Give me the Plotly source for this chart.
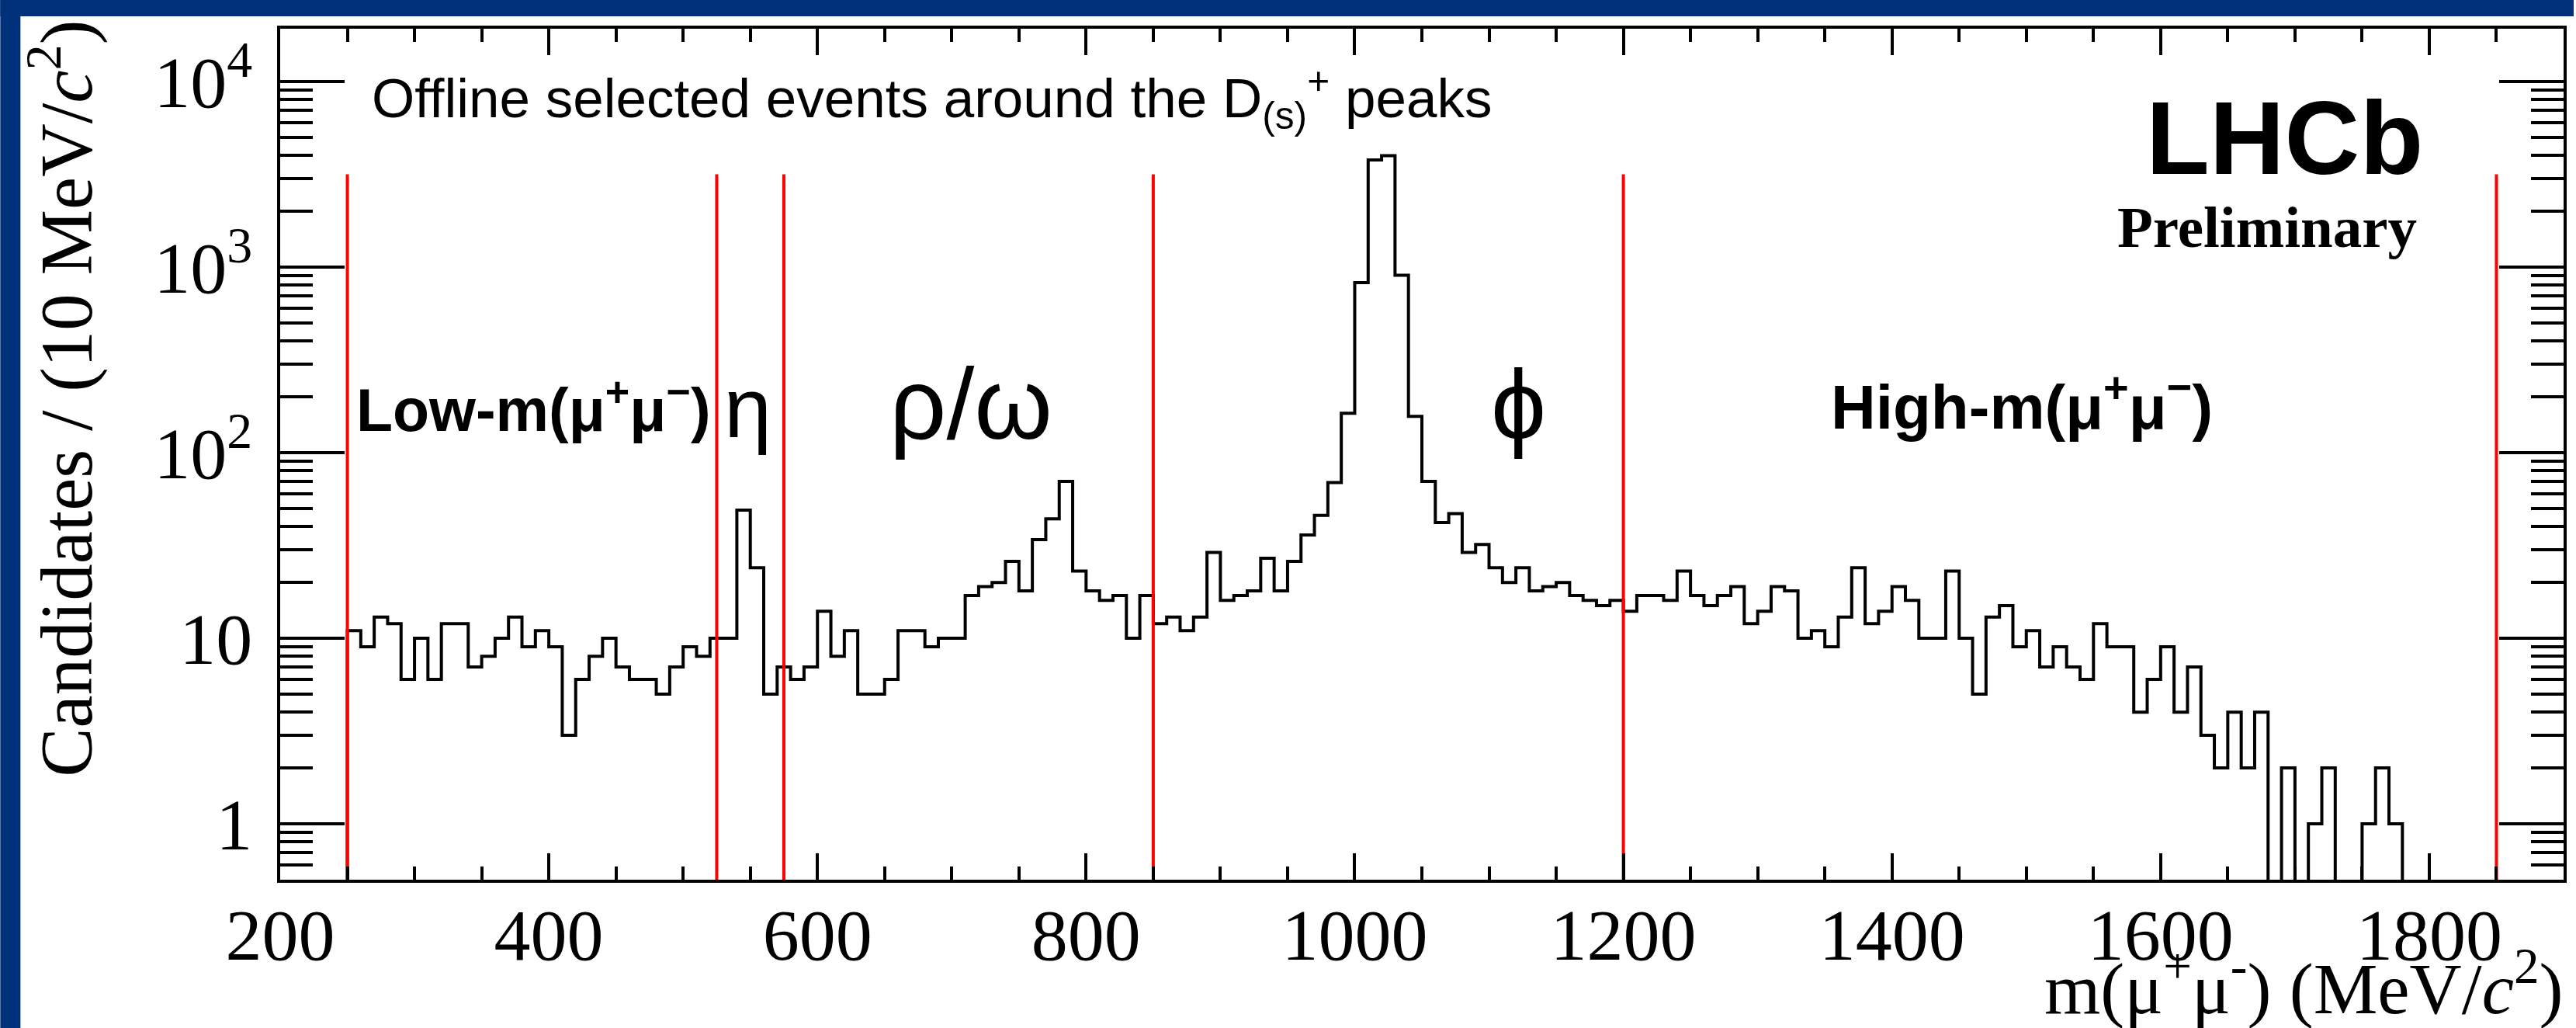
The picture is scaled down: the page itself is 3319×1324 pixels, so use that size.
import numpy as np
import plotly.graph_objects as go

# Dimuon invariant-mass spectrum, 10 MeV/c^2 bins starting at 250 MeV/c^2
bin_low = 250
bin_width = 10
counts = [
    11, 9, 13, 12, 6, 10, 6, 12, 12, 7,          # 250-350
    8, 10, 13, 9, 11, 9, 3, 6, 8, 10,            # 350-450
    7, 6, 6, 5, 7, 9, 8, 10, 10, 49,             # 450-550
    24, 5, 7, 6, 7, 14, 8, 11, 5, 5,             # 550-650
    6, 11, 11, 9, 10, 10, 17, 19, 20, 26,        # 650-750
    18, 34, 44, 70, 23, 18, 16, 17, 10, 17,      # 750-850
    12, 13, 11, 13, 29, 16, 17, 18, 27, 18,      # 850-950
    26, 36, 46, 69, 163, 825, 3780, 3990, 905, 157,  # 950-1050
    70, 42, 47, 29, 32, 24, 20, 24, 18, 19,      # 1050-1150
    20, 17, 16, 15, 16, 14, 17, 17, 16, 23,      # 1150-1250
    17, 15, 17, 19, 12, 14, 19, 18, 10, 11,      # 1250-1350
    9, 13, 24, 12, 14, 19, 16, 10, 10, 23,       # 1350-1450
    10, 5, 13, 15, 9, 11, 7, 9, 7, 6,            # 1450-1550
    12, 9, 9, 4, 6, 9, 4, 7, 3, 2,               # 1550-1650
    4, 2, 4, 0, 2, 0, 1, 2, 0, 0,                # 1650-1750
    1, 2, 1, 0, 0, 0, 0, 0, 0, 0,                # 1750-1850
]

# Boundaries of the dimuon-mass regions
region_edges = [250, 525, 575, 850, 1200, 1850]
region_line_top = 10 ** 3.5

# Axes
x_range = [200, 1900]
x_major = [200, 400, 600, 800, 1000, 1200, 1400, 1600, 1800]
y_min, y_max = 0.5, 10 ** 4.285
y_major = [1, 10, 100, 1000, 10000]
y_major_text = ["1", "10", "10<sup>2</sup>", "10<sup>3</sup>", "10<sup>4</sup>"]
y_minor = [m * 10.0 ** e for e in range(-1, 4) for m in range(2, 10)
           if y_min < m * 10.0 ** e < y_max]

# Region labels
region_labels = ["Low-m(μ<sup>+</sup>μ<sup>−</sup>)", "η", "ρ/ω", "ϕ",
                 "High-m(μ<sup>+</sup>μ<sup>−</sup>)"]

W, H = 3319, 1324
PL, PR, PT, PB = 361, 3306, 37, 1133
SERIF = "Liberation Serif, Times New Roman, serif"
SANS = "Liberation Sans, Arial, Helvetica, DejaVu Sans, sans-serif"
BLUE = "#00307a"


def px(x):
    return (x - PL) / (PR - PL)


def py(y):
    return 1 - (y - PT) / (PB - PT)


edges = bin_low + bin_width * np.arange(len(counts) + 1)
floor = 1e-3  # empty bins drop below the axis
step_y = [c if c > 0 else floor for c in counts]
hist_x = [edges[0]] + list(edges)
hist_y = [floor] + step_y + [floor]

fig = go.Figure()
fig.add_trace(go.Scatter(
    x=hist_x, y=hist_y, mode="lines", line_shape="hv",
    line=dict(color="black", width=4), hoverinfo="skip", showlegend=False))

vx, vy = [], []
for e in region_edges:
    vx += [e, e, None]
    vy += [y_min, region_line_top, None]
fig.add_trace(go.Scatter(
    x=vx, y=vy, mode="lines", line=dict(color="#ff0000", width=4),
    hoverinfo="skip", showlegend=False))

axis_common = dict(showline=True, linecolor="black", linewidth=4,
                   mirror="ticks", ticks="inside", tickcolor="black",
                   tickwidth=4, showgrid=False, zeroline=False,
                   tickfont=dict(family=SERIF, size=94, color="black"))

fig.update_xaxes(range=x_range, tickmode="array", tickvals=x_major,
                 ticklen=34, ticklabelstandoff=-14,
                 minor=dict(tick0=200, dtick=50, ticks="inside", ticklen=17,
                            tickwidth=4, tickcolor="black", showgrid=False),
                 **axis_common)
fig.update_yaxes(type="log", range=[np.log10(y_min), np.log10(y_max)],
                 tickmode="array", tickvals=y_major, ticktext=y_major_text,
                 ticklen=83, ticklabelstandoff=13,
                 minor=dict(tickmode="array", tickvals=y_minor, ticks="inside",
                            ticklen=42, tickwidth=4, tickcolor="black",
                            showgrid=False),
                 **axis_common)

ann = []


def label(text, x, y, size, family=SANS, xanchor="left", yanchor="middle",
          angle=0, bold=False):
    ann.append(dict(text=f"<b>{text}</b>" if bold else text,
                    x=px(x), y=py(y), xref="paper", yref="paper",
                    xanchor=xanchor, yanchor=yanchor, showarrow=False,
                    textangle=angle, borderpad=0,
                    font=dict(family=family, size=size, color="black")))


label("Offline selected events around the D<sub>(s)</sub><sup>+</sup> peaks",
      478, 126, 71)
label("LHCb", 2946, 177, 134, xanchor="center", bold=True)
label("Preliminary", 2924, 292, 75, family=SERIF, xanchor="center", bold=True)
label(region_labels[0], 458, 522, 77, bold=True)
label(region_labels[1], 964, 524, 110, xanchor="center")
label(region_labels[2], 1252, 520, 129, xanchor="center")
label(region_labels[3], 1958, 521, 127, xanchor="center")
label(region_labels[4], 2360, 518, 80, bold=True)
label("m(μ<sup>+</sup>μ<sup>-</sup>) (MeV/<i>c</i><sup>2</sup>)",
      3306, 1266, 93, family=SERIF, xanchor="right")
label("Candidates / (10 MeV/<i>c</i><sup>2</sup>)", 78, 25, 95,
      family=SERIF, xanchor="center", yanchor="top", angle=-90)

shapes = [
    dict(type="rect", xref="paper", yref="paper", x0=px(0), x1=px(26),
         y0=py(H), y1=py(0), fillcolor=BLUE, line_width=0, layer="above"),
    dict(type="rect", xref="paper", yref="paper", x0=px(0), x1=px(W),
         y0=py(21), y1=py(0), fillcolor=BLUE, line_width=0, layer="above"),
]

fig.update_layout(
    width=W, height=H,
    margin=dict(l=PL, r=W - PR, t=PT, b=H - PB, pad=0),
    paper_bgcolor="white", plot_bgcolor="white",
    font=dict(family=SERIF, color="black"),
    annotations=ann, shapes=shapes, showlegend=False)

fig.write_html("out.html")
